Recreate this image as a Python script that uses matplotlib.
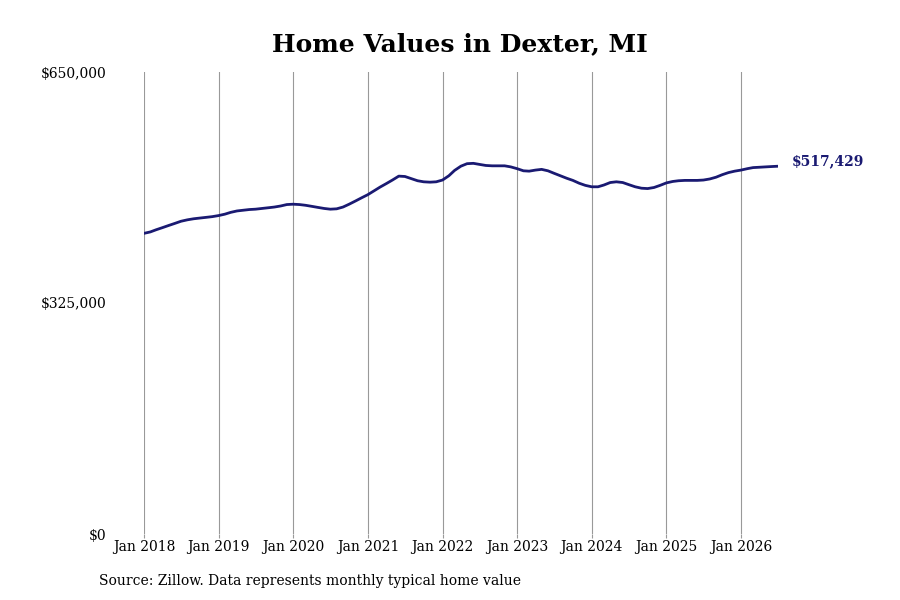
import matplotlib
matplotlib.use("Agg")
import matplotlib.pyplot as plt
import pandas as pd
import numpy as np

plt.rcParams['font.family'] = ['DejaVu Serif']

# Monthly typical home value (thousands of $), Jan 2018 - Jul 2026
v2018 = [423, 425, 428, 431, 434, 437, 440, 442, 443.5, 444.5, 445.5, 446.5]
v2019 = [448, 450, 452.5, 454.5, 455.5, 456.5, 457, 458, 459, 460, 461.5, 463.5]
v2020 = [464, 463.5, 462.5, 461, 459.5, 458, 457, 457.5, 460, 464, 468.5, 473]
v2021 = [477.5, 483, 488, 493, 498, 503.5, 503, 500, 497, 495.5, 495, 495.5]
v2022 = [498, 504, 511.5, 517.5, 521, 521.5, 520, 518.5, 518, 518, 518, 516.5]
v2023 = [514, 511, 510.5, 512, 513, 511, 507.5, 504, 500.5, 497.5, 493.5, 490.5]
v2024 = [488.5, 488.5, 491, 494.5, 495.5, 494.5, 491.5, 488.5, 486.5, 486, 487.5, 490.5]
v2025 = [494, 496, 497, 497.5, 497.5, 497.5, 498, 499.5, 502, 505.5, 508.5, 510.5]
v2026 = [512, 514, 515.5, 516, 516.5, 517, 517.429]

values = np.array(v2018 + v2019 + v2020 + v2021 + v2022 + v2023 + v2024 + v2025 + v2026) * 1000
dates = pd.date_range("2018-01-01", periods=len(values), freq="MS")

ytick_vals = [0, 325000, 650000]
ytick_labels = ["$0", "$325,000", "$650,000"]
xtick_years = list(range(2018, 2027))
last_label = "$517,429"

navy = "#1a1a72"

fig = plt.figure(figsize=(9, 6), dpi=100)
ax = fig.add_axes([144/900, 1-534/600, (778-144)/900, (534-72)/600])

ax.plot(dates, values, color=navy, linewidth=2.0, solid_capstyle='round')

ax.set_ylim(0, 650000)
ax.set_xlim(dates[0], dates[-1])
ax.set_yticks(ytick_vals)
ax.set_yticklabels(ytick_labels, fontsize=10)
xt = [pd.Timestamp(f"{y}-01-01") for y in xtick_years]
ax.set_xticks(xt)
ax.set_xticklabels([f"Jan {y}" for y in xtick_years], fontsize=10)

ax.tick_params(axis='y', length=0, pad=27)
ax.tick_params(axis='x', length=3, color="#999999", width=0.8, pad=1)
ax.grid(axis='x', color="#999999", linewidth=0.8)
for s in ax.spines.values():
    s.set_visible(False)

ax.annotate(last_label, xy=(dates[-1], values[-1]), xytext=(10, 3.5),
            textcoords='offset points', va='center', ha='left',
            fontsize=10, fontweight='bold', color=navy)

fig.text(460/900, 1-44/600, "Home Values in Dexter, MI", ha='center', va='center',
         fontsize=18, fontweight='bold')
fig.text(99/900, 1-581/600, "Source: Zillow. Data represents monthly typical home value",
         ha='left', va='center', fontsize=10)

fig.savefig("out.png", dpi=100)
